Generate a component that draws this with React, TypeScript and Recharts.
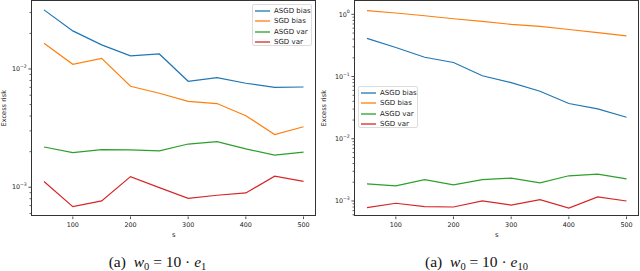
import { Line, LineChart, XAxis, YAxis, Label } from "recharts";

// shared x values (s)
const steps = [50, 100, 150, 200, 250, 300, 350, 400, 450, 500];
const xTicks = [100, 200, 300, 400, 500];

// left panel: w0 = 10 * e1
const leftAsgdBias = [0.0316, 0.021, 0.016, 0.0129, 0.0134, 0.00787, 0.00845, 0.00757, 0.007, 0.00704];
const leftSgdBias = [0.0165, 0.01096, 0.0123, 0.00714, 0.00623, 0.00533, 0.0051, 0.00403, 0.00279, 0.00325];
const leftAsgdVar = [0.00219, 0.00196, 0.00208, 0.00207, 0.00203, 0.00232, 0.00243, 0.00211, 0.00187, 0.00198];
const leftSgdVar = [0.00112, 0.000686, 0.000766, 0.00123, 0.000993, 0.000807, 0.000856, 0.000895, 0.00124, 0.00112];
const leftMajor = [0.001, 0.01];
const leftMinor = [0.0006, 0.0007, 0.0008, 0.0009, 0.002, 0.003, 0.004, 0.005, 0.006, 0.007, 0.008, 0.009, 0.02, 0.03];

// right panel: w0 = 10 * e10
const rightAsgdBias = [0.41, 0.293, 0.204, 0.168, 0.103, 0.08, 0.058, 0.0369, 0.0303, 0.0222];
const rightSgdBias = [1.15, 1.05, 0.95, 0.85, 0.77, 0.69, 0.64, 0.57, 0.51, 0.45];
const rightAsgdVar = [0.00188, 0.00175, 0.00221, 0.00181, 0.00221, 0.00233, 0.00195, 0.00254, 0.0027, 0.00226];
const rightSgdVar = [0.00078, 0.00092, 0.00081, 0.0008, 0.001, 0.00086, 0.00105, 0.00077, 0.00116, 0.001];
const rightMajor = [0.001, 0.01, 0.1, 1];
const rightMinor = [
  0.0006, 0.0007, 0.0008, 0.0009,
  0.002, 0.003, 0.004, 0.005, 0.006, 0.007, 0.008, 0.009,
  0.02, 0.03, 0.04, 0.05, 0.06, 0.07, 0.08, 0.09,
  0.2, 0.3, 0.4, 0.5, 0.6, 0.7, 0.8, 0.9,
];

const series = [
  { key: "asgdBias", name: "ASGD bias", color: "#1f77b4" },
  { key: "sgdBias", name: "SGD bias", color: "#ff7f0e" },
  { key: "asgdVar", name: "ASGD var", color: "#2ca02c" },
  { key: "sgdVar", name: "SGD var", color: "#d62728" },
];

const FONT = "'DejaVu Sans', sans-serif";
const INK = "#222";

const rows = (a: number[], b: number[], c: number[], d: number[]) =>
  steps.map((s, i) => ({ s, asgdBias: a[i], sgdBias: b[i], asgdVar: c[i], sgdVar: d[i] }));

const supMinus = (n: number) => (n < 0 ? "\u2212" + Math.abs(n) : String(n));

function YTick(props: any) {
  const { x, y, payload, majors } = props;
  const v = payload.value;
  const major = majors.includes(v);
  if (!major) {
    return <line x1={x} x2={x - 1.5} y1={y} y2={y} stroke={INK} strokeWidth={0.7} />;
  }
  const exp = Math.round(Math.log10(v));
  return (
    <g>
      <line x1={x} x2={x - 2.6} y1={y} y2={y} stroke={INK} strokeWidth={0.8} />
      <text x={x - 4.2} y={y + 2.2} textAnchor="end" fontSize={6.4} fontFamily={FONT} fill={INK}>
        10
        <tspan dy={-3.2} fontSize={4.6}>{supMinus(exp)}</tspan>
      </text>
    </g>
  );
}

function XTick(props: any) {
  const { x, y, payload } = props;
  return (
    <g>
      <line x1={x} x2={x} y1={y} y2={y + 2.6} stroke={INK} strokeWidth={0.8} />
      <text x={x} y={y + 10.2} textAnchor="middle" fontSize={6.4} fontFamily={FONT} fill={INK}>
        {payload.value}
      </text>
    </g>
  );
}

function LegendBox({ left, top }: { left: number; top: number }) {
  return (
    <div
      style={{
        position: "absolute",
        left,
        top,
        width: 60,
        height: 42,
        border: "1px solid #dcdcdc",
        borderRadius: 2,
        background: "rgba(255,255,255,0.85)",
        paddingTop: 1,
        boxSizing: "border-box",
        fontFamily: FONT,
        fontSize: 7,
        color: INK,
      }}
    >
      {series.map((s) => (
        <div key={s.key} style={{ height: 10.3, display: "flex", alignItems: "center" }}>
          <svg width={17} height={4} style={{ marginLeft: 1, display: "block" }}>
            <line x1={1} x2={16} y1={2} y2={2} stroke={s.color} strokeWidth={1.3} />
          </svg>
          <span style={{ marginLeft: 3, lineHeight: "10px", whiteSpace: "nowrap" }}>{s.name}</span>
        </div>
      ))}
    </div>
  );
}

type PanelProps = {
  left: number;
  data: any[];
  domain: [number, number];
  majors: number[];
  minors: number[];
  axisWidth: number;
  rightMargin: number;
  legend: { left: number; top: number };
  sub: string;
  captionShift: number;
};

function Panel({ left, data, domain, majors, minors, axisWidth, rightMargin, legend, sub, captionShift }: PanelProps) {
  const W = 320;
  const H = 245;
  const xAxisH = 28.5;
  const plotW = W - axisWidth - rightMargin;
  const plotH = H - xAxisH;
  return (
    <div style={{ position: "absolute", left, top: 0, width: W, height: 271 }}>
      <LineChart width={W} height={H} data={data} margin={{ top: 0, right: rightMargin, left: 0, bottom: 0 }}>
        <XAxis
          dataKey="s"
          type="number"
          domain={[27.5, 522.5]}
          allowDataOverflow
          ticks={xTicks}
          interval={0}
          height={xAxisH}
          axisLine={false}
          tickLine={false}
          tickSize={0}
          tickMargin={0}
          tick={<XTick />}
        >
          <Label value="s" position="insideBottom" offset={8} fontSize={6.8} fontFamily={FONT} fill={INK} />
        </XAxis>
        <YAxis
          type="number"
          scale="log"
          domain={domain}
          allowDataOverflow
          ticks={[...majors, ...minors]}
          interval={0}
          width={axisWidth}
          axisLine={false}
          tickLine={false}
          tickSize={0}
          tickMargin={0}
          tick={<YTick majors={majors} />}
        >
          <Label
            content={({ viewBox }: any) => (
              <text
                x={viewBox.x + 6}
                y={viewBox.y + viewBox.height / 2}
                transform={`rotate(-90 ${viewBox.x + 6} ${viewBox.y + viewBox.height / 2})`}
                textAnchor="middle"
                fontSize={6.6}
                fontFamily={FONT}
                fill={INK}
              >
                Excess risk
              </text>
            )}
          />
        </YAxis>
        {series.map((s) => (
          <Line
            key={s.key}
            dataKey={s.key}
            stroke={s.color}
            strokeWidth={1.2}
            dot={false}
            type="linear"
            isAnimationActive={false}
          />
        ))}
      </LineChart>
      <div
        style={{
          position: "absolute",
          left: axisWidth - 0.5,
          top: -0.5,
          width: plotW,
          height: plotH,
          border: "1px solid #333",
          boxSizing: "border-box",
          pointerEvents: "none",
        }}
      />
      <LegendBox left={legend.left} top={legend.top} />
      <div
        style={{
          position: "absolute",
          left: captionShift,
          width: W,
          top: 253,
          textAlign: "center",
          fontFamily: "'Liberation Serif', serif",
          fontSize: 15.5,
          lineHeight: "17px",
          color: "#111",
          whiteSpace: "nowrap",
        }}
      >
        (a)&nbsp; <i>w</i>
        <sub style={{ fontSize: 10.5, verticalAlign: "-3px" }}>0</sub>
        &nbsp;=&nbsp;10&nbsp;·&nbsp;<i>e</i>
        <sub style={{ fontSize: 10.5, verticalAlign: "-3px" }}>{sub}</sub>
      </div>
    </div>
  );
}

export default function App() {
  const leftData = rows(leftAsgdBias, leftSgdBias, leftAsgdVar, leftSgdVar);
  const rightData = rows(rightAsgdBias, rightSgdBias, rightAsgdVar, rightSgdVar);
  return (
    <div style={{ position: "absolute", left: 0, top: 0, width: 640, height: 271, background: "#fff", overflow: "hidden" }}>
      <Panel
        left={0}
        data={leftData}
        domain={[0.000566, 0.0383]}
        majors={leftMajor}
        minors={leftMinor}
        axisWidth={31}
        rightMargin={3.5}
        legend={{ left: 252, top: 4 }}
        sub="1"
        captionShift={-2.5}
      />
      <Panel
        left={320}
        data={rightData}
        domain={[0.000563, 1.7]}
        majors={rightMajor}
        minors={rightMinor}
        axisWidth={34}
        rightMargin={0.5}
        legend={{ left: 38, top: 86 }}
        sub="10"
        captionShift={-3.5}
      />
    </div>
  );
}
